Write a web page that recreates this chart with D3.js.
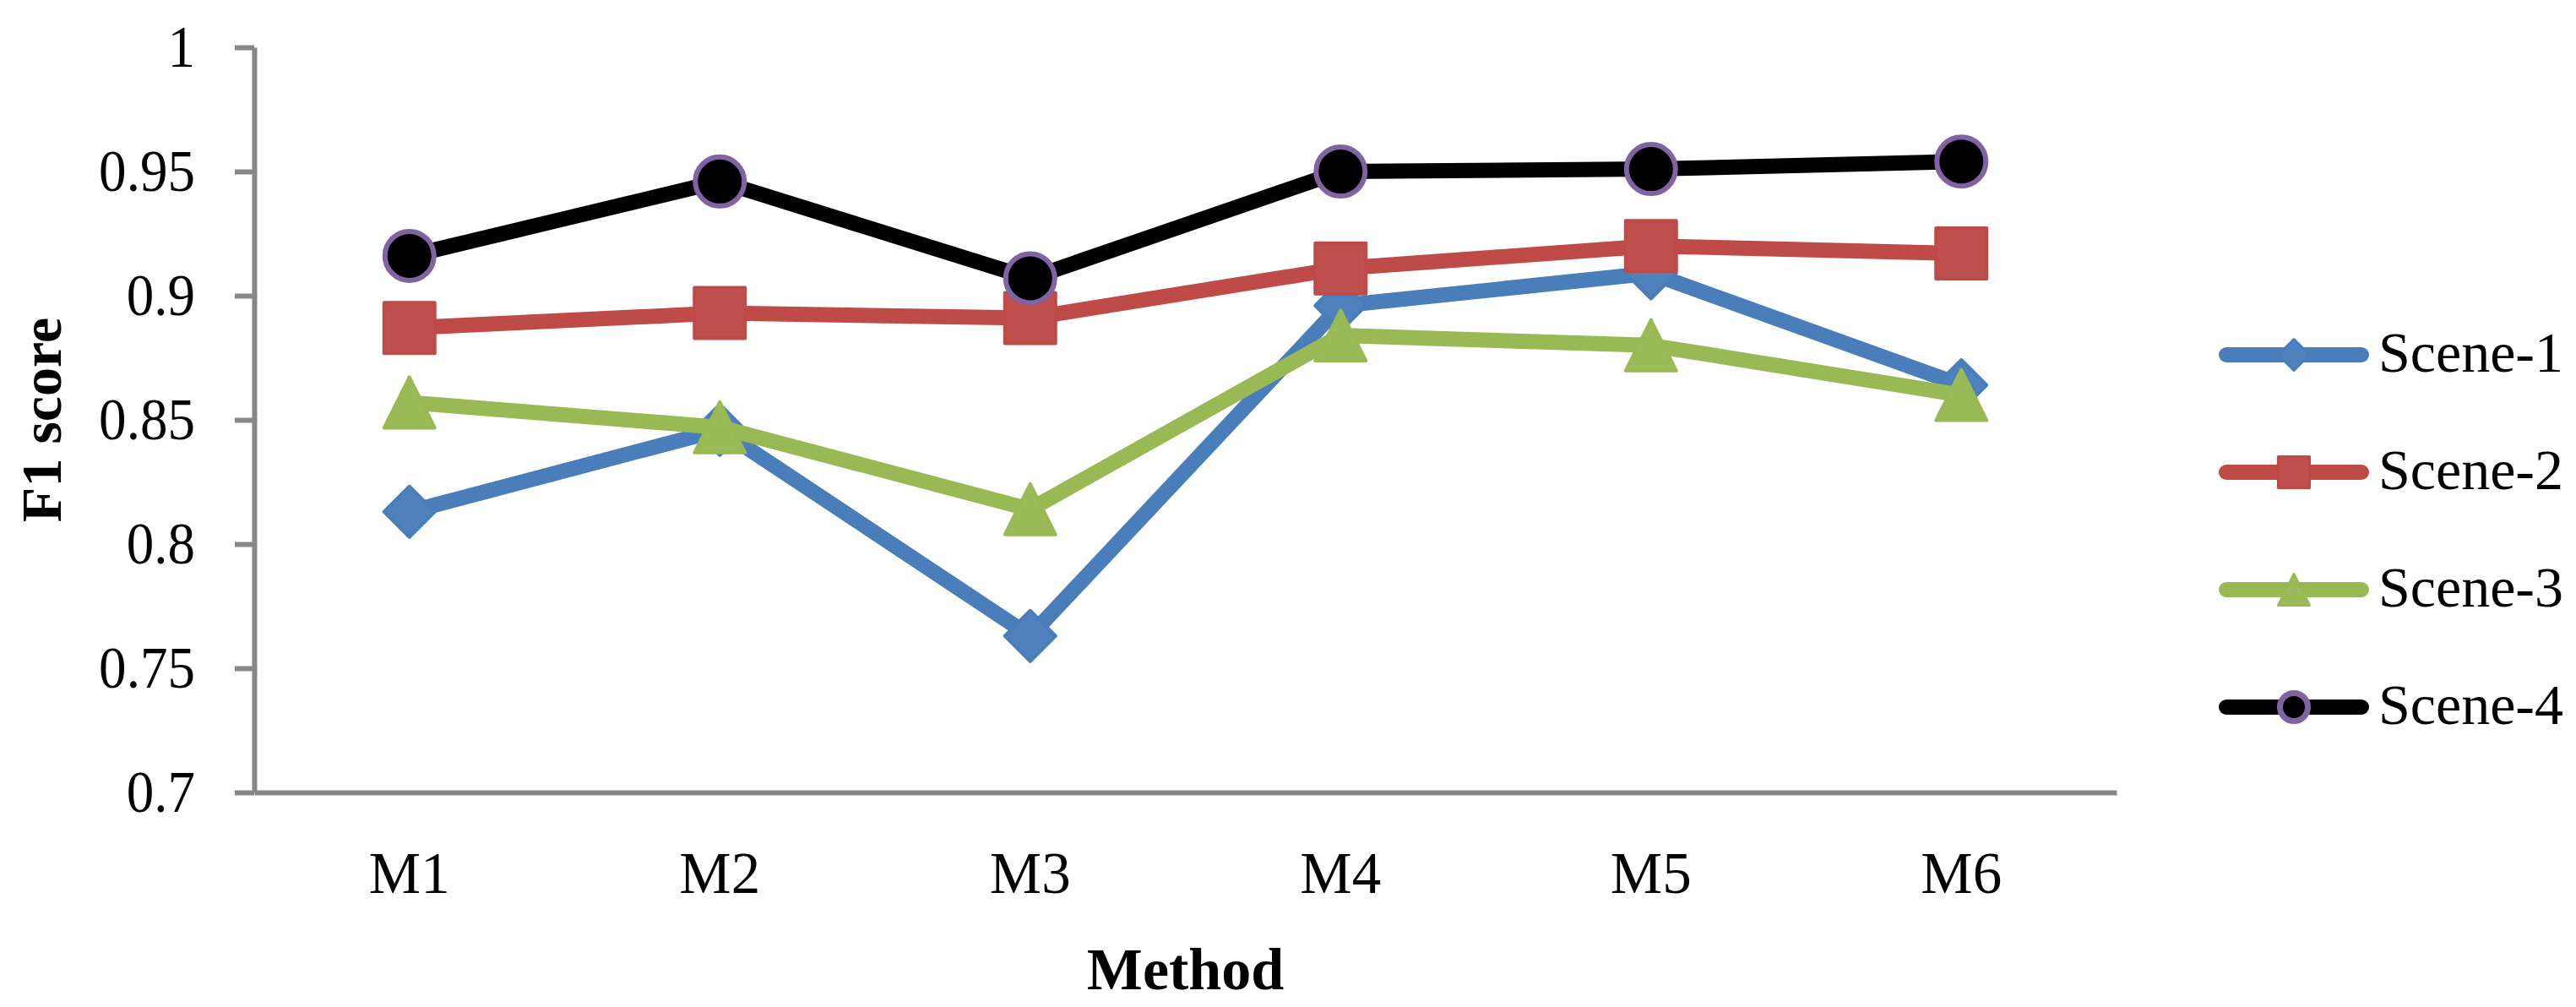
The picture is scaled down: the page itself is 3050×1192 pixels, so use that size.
<!DOCTYPE html>
<html>
<head>
<meta charset="utf-8">
<script src="https://cdn.jsdelivr.net/npm/d3@7/dist/d3.min.js"></script>
<style>
  html, body { margin: 0; padding: 0; background: #ffffff; }
  svg { display: block; }
</style>
</head>
<body>
<svg id="chart" width="3050" height="1192"></svg>
<script>
// ---- data ----
const methods = ["M1", "M2", "M3", "M4", "M5", "M6"];
const seriesNames = ["Scene-1", "Scene-2", "Scene-3", "Scene-4"];
const scene1 = [0.813, 0.846, 0.763, 0.896, 0.909, 0.864];
const scene2 = [0.887, 0.893, 0.891, 0.911, 0.920, 0.917];
const scene3 = [0.857, 0.847, 0.814, 0.884, 0.880, 0.860];
const scene4 = [0.916, 0.946, 0.907, 0.950, 0.951, 0.954];
const yTicks = [0.7, 0.75, 0.8, 0.85, 0.9, 0.95, 1];
const yTickLabels = ["0.7", "0.75", "0.8", "0.85", "0.9", "0.95", "1"];

const seriesValues = [scene1, scene2, scene3, scene4];
const styles = [
  { line: "#4A7EBB", fill: "#4F81BD", stroke: "#4A7EBB", marker: "diamond" },
  { line: "#BE4B48", fill: "#C0504D", stroke: "#BE4B48", marker: "square" },
  { line: "#98B954", fill: "#9BBB59", stroke: "#98B954", marker: "triangle" },
  { line: "#000000", fill: "#000000", stroke: "#8064A2", marker: "circle" }
];

const FONT = "'Liberation Serif', 'Times New Roman', serif";
const AXIS_GREY = "#878787";

const svg = d3.select("#chart");
svg.append("rect").attr("width", 3050).attr("height", 1192).attr("fill", "#fff");

const x = d3.scaleBand().domain(methods).range([301, 2506]).padding(0);
const y = d3.scaleLinear().domain([0.7, 1]).range([938, 56]);
const cx = m => x(m) + x.bandwidth() / 2;

// ---- y axis ----
const yAxis = svg.append("g").attr("transform", "translate(301,0)")
  .call(d3.axisLeft(y).tickValues(yTicks).tickSize(23).tickSizeOuter(0).tickPadding(47)
    .tickFormat((d, i) => yTickLabels[i]));
yAxis.select(".domain").attr("stroke", AXIS_GREY).attr("stroke-width", 6);
yAxis.selectAll(".tick line").attr("stroke", AXIS_GREY).attr("stroke-width", 6);
yAxis.selectAll(".tick text")
  .attr("font-family", FONT).attr("font-size", 70).attr("fill", "#000")
  .attr("x", 0).attr("dy", 22)
  .attr("transform", "translate(-70,0) scale(0.93,1)");

// ---- x axis ----
const xAxis = svg.append("g").attr("transform", "translate(0,938)")
  .call(d3.axisBottom(x).tickSize(0).tickSizeOuter(0).tickPadding(0));
xAxis.select(".domain").attr("stroke", AXIS_GREY).attr("stroke-width", 6);
xAxis.selectAll(".tick text")
  .attr("font-family", FONT).attr("font-size", 69).attr("fill", "#000")
  .attr("y", 119).attr("dy", 0);

// ---- axis titles ----
svg.append("text")
  .attr("transform", "translate(72,497) rotate(-90)")
  .attr("text-anchor", "middle")
  .attr("font-family", FONT).attr("font-weight", "bold").attr("font-size", 68)
  .text("F1 score");
svg.append("text")
  .attr("x", (301 + 2506) / 2).attr("y", 1171)
  .attr("text-anchor", "middle")
  .attr("font-family", FONT).attr("font-weight", "bold").attr("font-size", 70)
  .text("Method");

// ---- marker shapes ----
function markerPath(type, s) {
  const h = s / 2;
  if (type === "diamond") return `M0,${-h}L${h},0L0,${h}L${-h},0Z`;
  if (type === "square") return `M${-h},${-h}H${h}V${h}H${-h}Z`;
  if (type === "triangle") return `M0,${-h}L${h},${h}H${-h}Z`;
  return null;
}
function drawMarker(g, type, st, px, py, size, strokeW) {
  if (type === "circle") {
    g.append("circle").attr("cx", px).attr("cy", py).attr("r", size / 2 - strokeW / 2)
      .attr("fill", st.fill).attr("stroke", st.stroke).attr("stroke-width", strokeW);
  } else {
    g.append("path").attr("d", markerPath(type, size - strokeW))
      .attr("transform", `translate(${px},${py})`)
      .attr("fill", st.fill).attr("stroke", st.stroke).attr("stroke-width", strokeW)
      .attr("stroke-linejoin", "round");
  }
}

// ---- series ----
const line = d3.line().x((d, i) => cx(methods[i])).y(d => y(d));
seriesValues.forEach((vals, si) => {
  const st = styles[si];
  const g = svg.append("g");
  g.append("path").attr("d", line(vals)).attr("fill", "none")
    .attr("stroke", st.line).attr("stroke-width", 18)
    .attr("stroke-linejoin", "round").attr("stroke-linecap", "round");
  vals.forEach((v, i) => {
    drawMarker(g, st.marker, st, cx(methods[i]), y(v), 64, st.marker === "circle" ? 6 : 4);
  });
});

// ---- legend ----
const legendY = [420, 559, 698, 837];
seriesNames.forEach((name, si) => {
  const st = styles[si];
  const g = svg.append("g");
  const ly = legendY[si];
  g.append("line").attr("x1", 2636).attr("x2", 2796).attr("y1", ly).attr("y2", ly)
    .attr("stroke", st.line).attr("stroke-width", 18).attr("stroke-linecap", "round");
  drawMarker(g, st.marker, st, 2716, ly, 40, st.marker === "circle" ? 7 : 3);
  g.append("text").attr("x", 2816).attr("y", ly + 20)
    .attr("font-family", FONT).attr("font-size", 68).attr("fill", "#000")
    .text(name);
});
</script>
</body>
</html>
